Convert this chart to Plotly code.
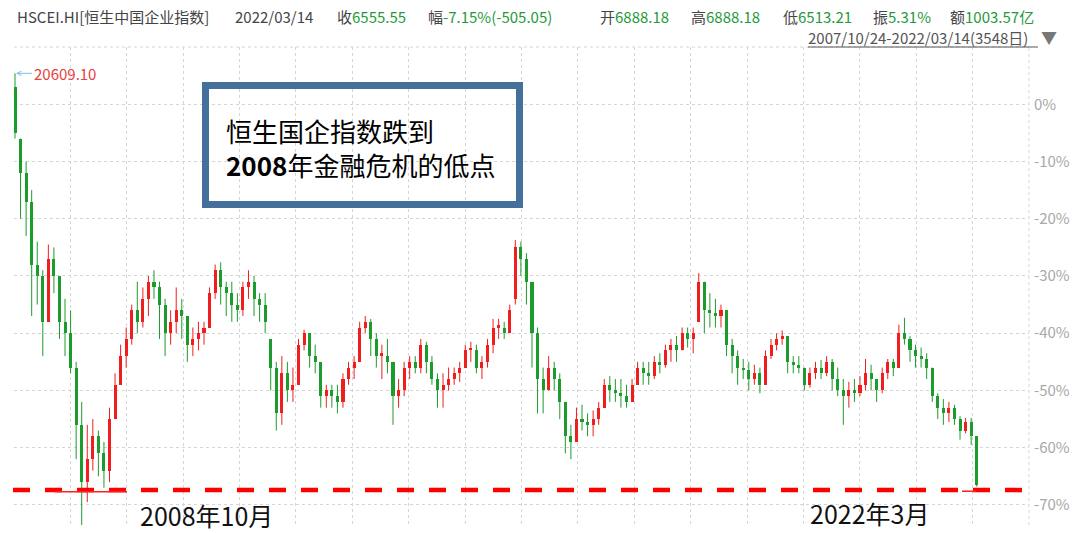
import plotly.graph_objects as go
import pandas as pd

# ---- data: monthly candles, % change vs. first close (2007/10 .. 2022/03) ----
months = [str(p) for p in pd.period_range("2007-10", "2022-03", freq="M")]

open_ = [3, -6, -12, -17, -28, -30, -38, -27, -30, -38, -40, -46, -56, -66, -62, -58, -61, -64, -55, -49,
         -44, -41, -36, -38, -34, -31, -32, -35, -40, -38, -36, -37, -42, -41, -40, -39, -33, -29, -32, -33,
         -35, -36, -32, -31, -34, -35, -41, -46, -54, -47, -50, -49, -42, -40, -44, -45, -51, -50, -51, -52,
         -48, -46, -45, -39, -38, -41, -44, -44, -45, -51, -50, -46, -45, -46, -42, -45, -48, -50, -49, -48,
         -47, -46, -43, -43, -46, -45, -42, -39, -39, -40, -34, -25, -27, -31, -40, -48, -50, -46, -48, -52,
         -58, -59, -55, -55.5, -56, -55, -53, -49, -50, -50.5, -51, -52, -49, -46, -47, -47.5, -45, -45.5, -43, -42,
         -43, -40, -41, -38, -31, -36, -36.5, -37, -36, -42, -44, -46, -46.5, -48, -47, -49, -44, -42, -41, -40.5,
         -45, -45.5, -46, -49, -47, -46, -47, -45, -48, -50, -51, -50, -50.5, -49, -47, -48, -50, -47, -45, -46,
         -40, -41, -43, -44, -44.5, -46, -51, -53, -54, -53, -55, -57, -55.5, -58]
high = [5.4, -6, -10, -15, -24, -29, -24.5, -25, -30, -34, -36, -45, -52, -56, -55, -57, -59, -53, -47, -42,
        -39, -35, -31, -32, -30, -29, -31, -34, -36, -32, -34, -37, -39, -38, -38, -32, -28, -27.6, -31, -31,
        -33, -31, -29, -30, -33, -33, -41, -45, -44, -45, -46, -41, -39.4, -40, -42, -45, -49, -49, -49, -47,
        -45, -44, -38, -37, -37.5, -40, -42, -41, -45, -48, -45, -44, -44, -41, -41.5, -44, -47, -47, -46, -46,
        -45, -42, -41.5, -42, -44, -41, -37.5, -37.5, -38, -35, -23.7, -24, -26, -31, -39, -46, -44, -45, -47, -52,
        -56, -53, -52.5, -54, -53.5, -52, -48, -47.5, -48, -48, -49, -48, -45, -45, -45, -44, -43.5, -42, -41, -40.5,
        -39, -39, -39, -29.5, -31, -33, -34, -35, -36, -41, -43, -44.5, -45, -45.5, -46, -43, -41, -40, -39.5, -40.5,
        -44, -44, -46, -46, -45, -44.7, -44, -44.5, -46, -48, -48.5, -48, -47.5, -44.5, -45.5, -48, -46, -44.5, -44.5, -38.5,
        -37.3, -40.5, -42, -42.5, -43.5, -46, -50.5, -51.5, -52, -52.5, -54.5, -54.8, -54.8, -58]
low = [-6, -20, -23, -37, -35, -44, -38, -33, -41, -44, -47, -62, -76, -69.5, -64, -65, -67, -66, -55, -49,
       -46, -42, -40, -39, -37, -34, -41, -44, -42, -40, -41, -45, -44, -43, -42, -39, -34, -35, -37, -38,
       -38, -37, -34, -37, -38, -40, -50, -57, -56, -52, -52, -49, -43, -46, -47, -53, -53, -53, -54, -53,
       -49, -48, -45, -40, -44, -46, -48, -47, -56, -53, -51, -48, -47, -47, -47, -49, -53, -53, -50, -49,
       -48.5, -46, -45, -47, -48, -46, -43.5, -41, -41, -40, -35, -30, -35, -46, -54, -54, -50, -50, -55, -61,
       -62, -59, -57, -58, -58, -56, -53, -52, -52, -53, -53, -52, -49, -49, -49, -48, -47, -46, -45, -45,
       -43, -42.5, -43.5, -38, -40, -39, -39, -39, -44, -47, -49, -48, -50, -49, -50.5, -49, -44.5, -43, -42, -47,
       -47, -47, -50, -49.5, -48, -48, -47.5, -50, -51, -56, -53, -52, -51, -50, -50, -52, -50.5, -48, -47.5, -46,
       -42, -45, -46, -46, -48, -52, -55, -56, -55.5, -56, -58.6, -57.5, -59.5, -66.8]
close = [-5, -12, -17, -28, -30, -38, -27, -30, -38, -40, -46, -56, -66, -62, -58, -61, -64, -55, -49, -44,
         -41, -36, -38, -34, -31, -32, -35, -40, -38, -36, -37, -42, -41, -40, -39, -33, -29, -32, -33, -35,
         -36, -32, -31, -34, -35, -38, -46, -54, -47, -50, -49, -42, -40, -44, -45, -51, -50, -51, -52, -48,
         -46, -45, -39, -38, -41, -44, -44, -45, -51, -50, -46, -45, -46, -42, -45, -48, -50, -49, -48, -47,
         -46, -43, -43, -46, -45, -42, -39, -39, -40, -36, -25, -27, -31, -40, -48, -50, -46, -48, -52, -58,
         -59, -55, -55.5, -56, -55, -53, -49, -50, -50.5, -51, -52, -49, -46, -47, -47.5, -45, -45.5, -43, -42, -43,
         -40, -41, -40, -31, -36, -36.5, -37, -36, -42, -44, -46, -46.5, -48, -47, -49, -44, -42, -41, -40.5, -45,
         -45.5, -46, -49, -47, -46, -47, -45, -48, -50, -51, -50, -50.5, -49, -47, -48, -50, -47, -45, -46, -40,
         -41, -43, -44, -44.5, -46, -51, -53, -54, -53, -55, -57, -55.5, -58, -66.5]

y_ticks = [0, -10, -20, -30, -40, -50, -60, -70]
y_ticktext = ["0%", "-10%", "-20%", "-30%", "-40%", "-50%", "-60%", "-70%"]
low_line = -67.4          # 2008 crisis low level (dashed line)
peak_label = "20609.10"

header = [
    (17, "HSCEI.HI[恒生中国企业指数]", ""),
    (235, "2022/03/14", ""),
    (337, "收", "6555.55"),
    (428, "幅", "-7.15%(-505.05)"),
    (600, "开", "6888.18"),
    (691, "高", "6888.18"),
    (783, "低", "6513.21"),
    (873, "振", "5.31%"),
    (950, "额", "1003.57亿"),
]
range_text = "2007/10/24-2022/03/14(3548日)"

# ---- layout helpers (page pixel -> paper) ----
W, H = 1080, 533
PL, PR, PT, PB = 14, 1029, 47, 525      # plot area in page pixels
def px(x):
    return (x - PL) / (PR - PL)
def py(y):
    return (PB - y) / (PB - PT)

STEP = 5.559  # px per month
x_idx = list(range(len(months)))
xr = [(PL - 15) / STEP, (PR - 15) / STEP]
xgrid = [xr[0] + (xr[1] - xr[0]) * k / 18 for k in range(1, 18)]

FONT = "Noto Sans CJK SC, Microsoft YaHei, sans-serif"
GREEN_TXT = "#1f9a3a"
UP, DOWN = "#f01e1e", "#1c9c2c"

up = [c >= o for o, c in zip(open_, close)]
body_base = [min(o, c) for o, c in zip(open_, close)]
body_len = [max(abs(c - o), 0.5) for o, c in zip(open_, close)]
body_col = [UP if u else DOWN for u in up]

fig = go.Figure()
for flag, col in ((True, UP), (False, DOWN)):
    wx, wy = [], []
    for i, u in enumerate(up):
        if u == flag:
            wx += [i, i, None]
            wy += [low[i], high[i], None]
    fig.add_trace(go.Scatter(x=wx, y=wy, mode="lines", line=dict(color=col, width=1),
                             hoverinfo="skip", showlegend=False))
fig.add_trace(go.Bar(x=x_idx, y=body_len, base=body_base, width=0.55,
                     marker=dict(color=body_col, line=dict(width=0)),
                     text=months, hoverinfo="text", textposition="none", showlegend=False))

shapes = []
shapes.append(dict(type="line", xref="paper", yref="paper", x0=1, x1=1, y0=0, y1=1,
                   line=dict(color="#d5d5d5", width=1, dash="dot")))
shapes.append(dict(type="line", xref="paper", yref="paper", x0=0, x1=1, y0=1, y1=1,
                   line=dict(color="#d5d5d5", width=1, dash="dot")))
shapes.append(dict(type="line", xref="paper", yref="y", x0=px(13), x1=px(1023), y0=low_line, y1=low_line,
                   line=dict(color="#ff0000", width=4.5, dash="17px,15px")))
shapes.append(dict(type="line", xref="paper", yref="y", x0=px(55), x1=px(127), y0=low_line - 0.3, y1=low_line - 0.3,
                   line=dict(color="#ff2020", width=1.5)))
shapes.append(dict(type="line", xref="paper", yref="y", x0=px(962), x1=px(976), y0=low_line - 0.2, y1=low_line - 0.2,
                   line=dict(color="#ff2020", width=1.5)))
shapes.append(dict(type="rect", xref="paper", yref="paper", x0=px(205.5), x1=px(519.5), y0=py(85.5), y1=py(204.5),
                   line=dict(color="#44709b", width=7), fillcolor="rgba(0,0,0,0)"))
shapes.append(dict(type="line", xref="paper", yref="paper", x0=px(808), x1=px(1038), y0=py(47), y1=py(47),
                   line=dict(color="#555555", width=1)))

ann = []
for x0, lab, val in header:
    t = f"<span style='color:#444444'>{lab}</span>"
    if val:
        t += f"<span style='color:{GREEN_TXT}'>{val}</span>"
    ann.append(dict(x=px(x0 - 2), y=py(16), xref="paper", yref="paper", text=t, showarrow=False,
                    xanchor="left", yanchor="middle", font=dict(family=FONT, size=15)))
ann.append(dict(x=px(806), y=py(37), xref="paper", yref="paper", text=range_text, showarrow=False,
                xanchor="left", yanchor="middle", font=dict(family=FONT, size=15, color="#555555")))
ann.append(dict(x=px(1039), y=py(37), xref="paper", yref="paper", text="▼", showarrow=False,
                xanchor="left", yanchor="middle", font=dict(family=FONT, size=16, color="#777777")))
# peak label with arrow pointing at the first candle's high
ann.append(dict(x=0, y=high[0], xref="x", yref="y", ax=17, ay=0, text=peak_label,
                showarrow=True, arrowhead=5, arrowsize=0.9, arrowwidth=1, arrowcolor="#7cc0e4",
                standoff=1, xanchor="left", yanchor="middle",
                font=dict(family=FONT, size=15, color="#e8403c")))
ann.append(dict(x=px(224), y=py(147), xref="paper", yref="paper",
                text="恒生国企指数跌到<br><b>2008</b>年金融危机的低点", showarrow=False, align="left",
                xanchor="left", yanchor="middle", font=dict(family=FONT, size=26, color="#000000")))
ann.append(dict(x=px(206), y=py(515), xref="paper", yref="paper", text="2008年10月", showarrow=False,
                xanchor="center", yanchor="middle", font=dict(family=FONT, size=25, color="#111111")))
ann.append(dict(x=px(869), y=py(513), xref="paper", yref="paper", text="2022年3月", showarrow=False,
                xanchor="center", yanchor="middle", font=dict(family=FONT, size=25, color="#111111")))

fig.update_layout(
    width=W, height=H,
    margin=dict(l=PL, r=W - PR, t=PT, b=H - PB),
    paper_bgcolor="white", plot_bgcolor="white",
    showlegend=False, bargap=0, barmode="overlay",
    shapes=shapes, annotations=ann,
    xaxis=dict(range=xr, tickvals=xgrid, showticklabels=False, ticks="", showgrid=True,
               gridcolor="#d5d5d5", griddash="dot", gridwidth=1, zeroline=False, showline=False),
    yaxis=dict(range=[-73.5, 10], side="right", tickvals=y_ticks, ticktext=y_ticktext, showgrid=True,
               gridcolor="#d5d5d5", griddash="dot", gridwidth=1, zeroline=False, ticks="",
               ticklabelstandoff=4, tickfont=dict(family=FONT, size=15, color="#a8a8a8"), showline=False),
)

fig.write_html("out.html", config={"displayModeBar": False},
               post_script="document.body.style.margin='0';document.body.style.overflow='hidden';")
